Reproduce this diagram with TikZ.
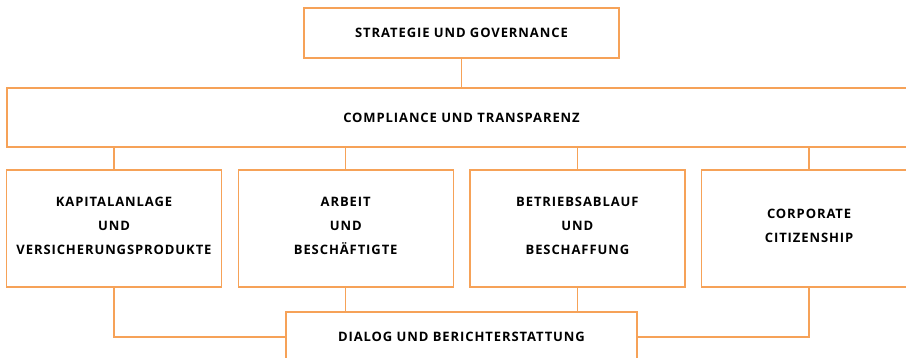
\documentclass[tikz,border=0pt]{standalone}
\usepackage{fontspec}
\setmainfont{Open Sans}[LetterSpace=7]
\usetikzlibrary{positioning}
\definecolor{boxorange}{RGB}{246,162,88}
\tikzset{
  box/.style={draw=boxorange,line width=1.4pt,fill=white,align=center,
    font=\fontsize{13pt}{24pt}\selectfont\bfseries,inner sep=0pt},
  pillar/.style={box,minimum width=215pt,minimum height=117pt,text depth=6pt},
  link/.style={draw=boxorange,line width=1.4pt}
}
\begin{document}
\begin{tikzpicture}[x=1pt,y=-1pt,node distance=231.7pt,on grid]
    \useasboundingbox (0,0) rectangle (906,357);
    \clip (0,0) rectangle (906,357);
    \node[box,minimum width=315pt,minimum height=50pt] (strategie) at (461.5,33) {STRATEGIE UND GOVERNANCE};
    \node[box,minimum width=909pt,minimum height=59pt] (compliance) [below=84.5pt of strategie] {COMPLIANCE UND TRANSPARENZ};
    \node[pillar] (kapital) at (114,228.5) {KAPITALANLAGE\\UND\\VERSICHERUNGSPRODUKTE};
    \node[pillar] (arbeit) [right of=kapital] {ARBEIT\\UND\\BESCHÄFTIGTE};
    \node[pillar] (betrieb) [right of=arbeit] {BETRIEBSABLAUF\\UND\\BESCHAFFUNG};
    \node[pillar] (corporate) [right of=betrieb] {CORPORATE\\CITIZENSHIP};
    \node[box,minimum width=351pt,minimum height=50pt] (dialog) at (461.5,337) {DIALOG UND BERICHTERSTATTUNG};

    \draw[link] (strategie) -- (compliance);
    \foreach \p in {kapital,arbeit,betrieb,corporate}
      \draw[link] (compliance.south -| \p.north) -- (\p.north);
    \draw[link] (kapital.south) |- (dialog.west);
    \draw[link] (corporate.south) |- (dialog.east);
    \draw[link] (arbeit.south) -- (arbeit.south |- dialog.north);
    \draw[link] (betrieb.south) -- (betrieb.south |- dialog.north);
\end{tikzpicture}
\end{document}
